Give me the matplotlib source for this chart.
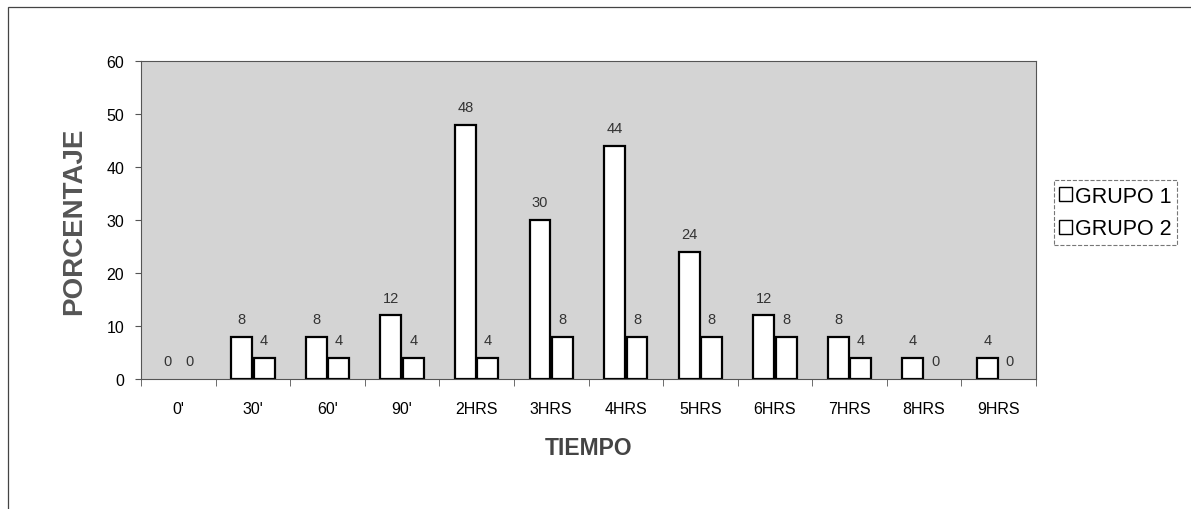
import numpy as np
import matplotlib
matplotlib.use("Agg")
import matplotlib.pyplot as plt
from matplotlib.patches import Rectangle

plt.rcParams["font.family"] = ["Liberation Sans", "DejaVu Sans"]

CATEGORIAS = ["0'", "30'", "60'", "90'", "2HRS", "3HRS", "4HRS", "5HRS",
              "6HRS", "7HRS", "8HRS", "9HRS"]
GRUPO_1 = [0, 8, 8, 12, 48, 30, 44, 24, 12, 8, 4, 4]
GRUPO_2 = [0, 4, 4, 4, 4, 8, 8, 8, 8, 4, 0, 0]
SERIES = [("GRUPO 1", GRUPO_1), ("GRUPO 2", GRUPO_2)]

W, H = 1191, 510
fig = plt.figure(figsize=(W / 100, H / 100), dpi=100)
ax = fig.add_axes([141 / W, 1 - 380 / H, (1036 - 141) / W, (380 - 62) / H])
ax.set_facecolor("#d4d4d4")

x = np.arange(len(CATEGORIAS))
width = 0.28
offsets = [-width / 2 - 0.01, width / 2 + 0.01]
for (name, vals), off in zip(SERIES, offsets):
    bars = ax.bar(x + off, vals, width, color="white", edgecolor="black",
                  linewidth=1.6, label=name)
    for b, v in zip(bars, vals):
        if v == 0:
            b.set_linewidth(0)  # empty bars are not drawn
        ax.text(b.get_x() + b.get_width() / 2, v + 2.0, str(v),
                ha="center", va="bottom", fontsize=10.5, color="#333333")

ax.set_xlim(-0.5, len(CATEGORIAS) - 0.5)
ax.set_ylim(0, 60)
ax.set_yticks(range(0, 61, 10))
ax.tick_params(axis="y", labelsize=11.5, length=4, color="#555555", pad=8)
ax.set_xticks(x)
ax.set_xticklabels(CATEGORIAS)
ax.tick_params(axis="x", length=0, labelsize=11.5, pad=16)
ax.set_xticks(np.arange(-0.5, len(CATEGORIAS)), minor=True)
ax.tick_params(axis="x", which="minor", length=5, color="#555555")
for s in ax.spines.values():
    s.set_color("#555555")
    s.set_linewidth(0.8)

ax.set_ylabel("PORCENTAJE", fontsize=20, fontweight="bold", color="#555555",
              labelpad=14)
ax.set_xlabel("TIEMPO", fontsize=16.5, fontweight="bold", color="#444444",
              labelpad=14)

leg = ax.legend(loc="upper left", bbox_to_anchor=(1.02, 0.625), fontsize=15.5,
                frameon=True, fancybox=False, edgecolor="#555555",
                handlelength=0.6, handleheight=0.6, handletextpad=0.15,
                borderpad=0.25, labelspacing=0.55, borderaxespad=0)
leg.get_frame().set_linewidth(0.8)
leg.get_frame().set_linestyle("--")
for h in leg.legend_handles:
    h.set_linewidth(1.0)

# outer chart border (top and left edges visible)
fig.patches.append(Rectangle((8 / W, -0.1), 1.2, 1.1 - 8 / H,
                             transform=fig.transFigure, fill=False,
                             edgecolor="#444444", linewidth=0.9))

fig.savefig("out.png", dpi=100)
